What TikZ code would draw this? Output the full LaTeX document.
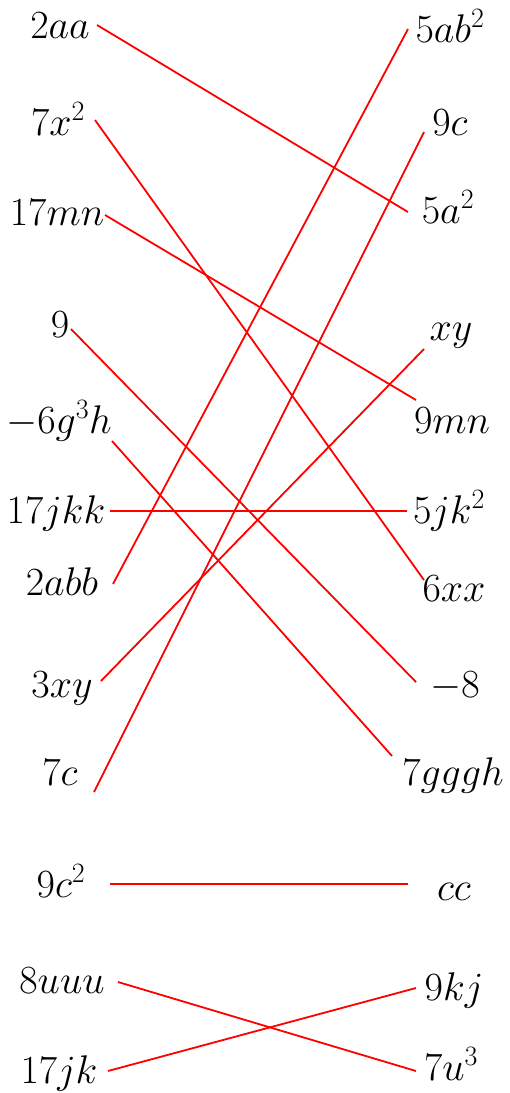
\documentclass[tikz,border=0pt]{standalone}
\usepackage{fix-cm}
\begin{document}
\begin{tikzpicture}[x=1pt,y=-1pt,
  lbl/.style={anchor=base,inner sep=0pt,font=\fontsize{40}{44}\selectfont},
  link/.style={draw=red,line width=1.8pt}]
\useasboundingbox (0,0) rectangle (509,1093);
% left column
\node[lbl] (l1) at (60,38) {$2aa$};
\node[lbl] (l2) at (58,135) {$7x^{2}$};
\node[lbl] (l3) at (57,225) {$17mn$};
\node[lbl] (l4) at (60,337) {$9$};
\node[lbl] (l5) at (59,433) {$-6g^{3}h$};
\node[lbl] (l6) at (56,523) {$17jkk$};
\node[lbl] (l7) at (62,595) {$2abb$};
\node[lbl] (l8) at (62,697) {$3xy$};
\node[lbl] (l9) at (60,785) {$7c$};
\node[lbl] (l10) at (61,897) {$9c^{2}$};
\node[lbl] (l11) at (62,993) {$8uuu$};
\node[lbl] (l12) at (59,1083) {$17jk$};
% right column
\node[lbl] (r1) at (450,42) {$5ab^{2}$};
\node[lbl] (r2) at (450,135) {$9c$};
\node[lbl] (r3) at (448,223) {$5a^{2}$};
\node[lbl] (r4) at (451,340) {$xy$};
\node[lbl] (r5) at (452,433) {$9mn$};
\node[lbl] (r6) at (449,523) {$5jk^{2}$};
\node[lbl] (r7) at (454,601) {$6xx$};
\node[lbl] (r8) at (455,697) {$-8$};
\node[lbl] (r9) at (453,785) {$7gggh$};
\node[lbl] (r10) at (454,900) {$cc$};
\node[lbl] (r11) at (454,1000) {$9kj$};
\node[lbl] (r12) at (451,1080) {$7u^{3}$};
% connector ends
\coordinate (a1) at (97,25);   \coordinate (b3) at (408,212);
\coordinate (a2) at (95,120);  \coordinate (b7) at (424,580);
\coordinate (a3) at (105,215); \coordinate (b5) at (416,400);
\coordinate (a4) at (71,329);  \coordinate (b8) at (416,682);
\coordinate (a5) at (112,441); \coordinate (b9) at (392,756);
\coordinate (a6) at (110,511); \coordinate (b6) at (407,511);
\coordinate (a7) at (113,584); \coordinate (b1) at (408,29);
\coordinate (a8) at (101,681); \coordinate (b4) at (424,349);
\coordinate (a9) at (94,792);  \coordinate (b2) at (424,132);
\coordinate (a10) at (110,884); \coordinate (b10) at (408,884);
\coordinate (a11) at (118,982); \coordinate (b12) at (416,1071);
\coordinate (a12) at (108,1071); \coordinate (b11) at (416,988);
\draw[link] (a1) -- (b3);
\draw[link] (a2) -- (b7);
\draw[link] (a3) -- (b5);
\draw[link] (a4) -- (b8);
\draw[link] (a5) -- (b9);
\draw[link] (a6) -- (b6);
\draw[link] (a7) -- (b1);
\draw[link] (a8) -- (b4);
\draw[link] (a9) -- (b2);
\draw[link] (a10) -- (b10);
\draw[link] (a11) -- (b12);
\draw[link] (a12) -- (b11);
\end{tikzpicture}
\end{document}
